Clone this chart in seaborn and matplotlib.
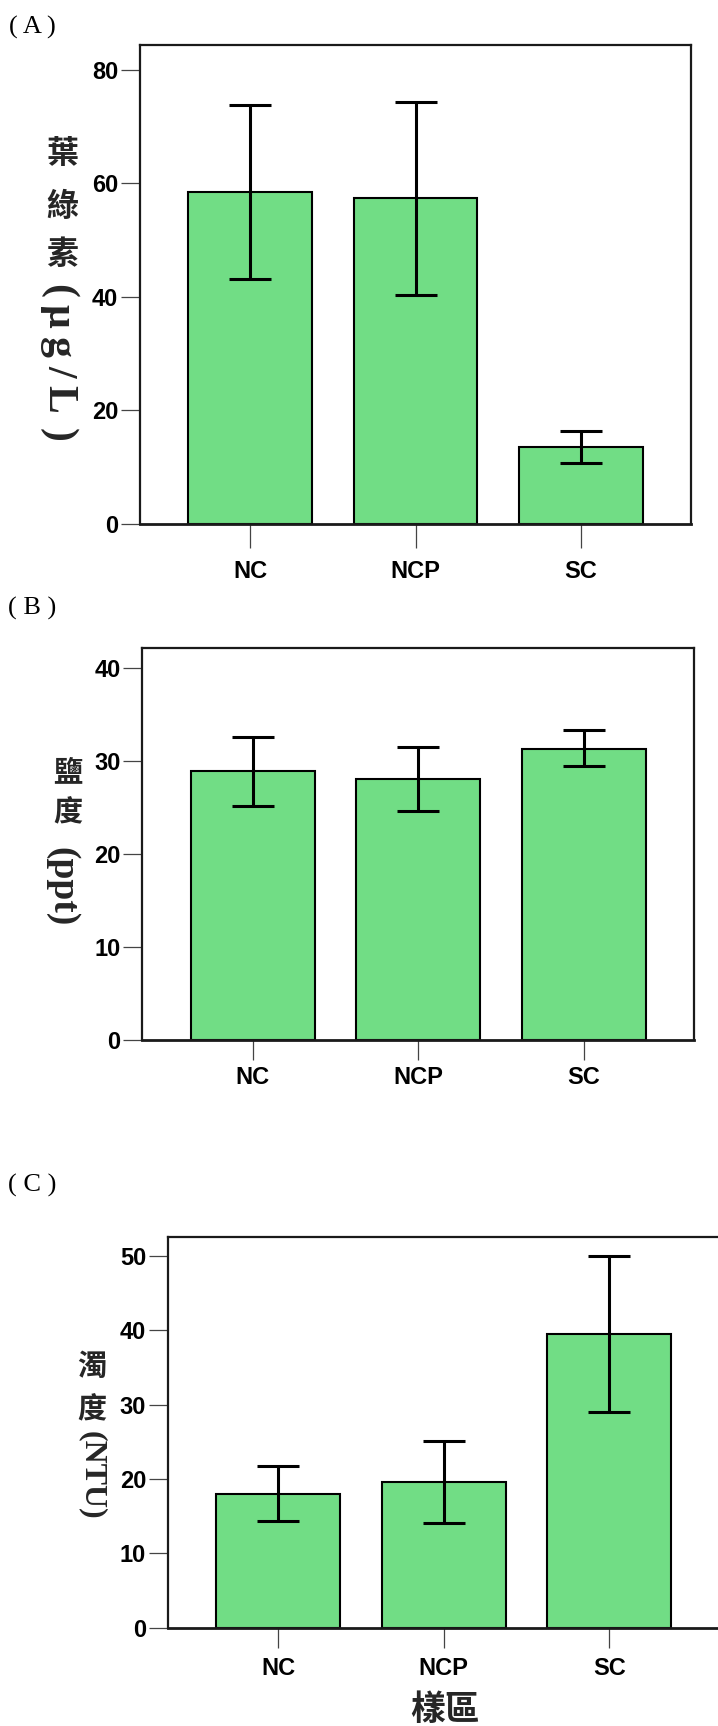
import numpy as np
import pandas as pd
import matplotlib
matplotlib.use("Agg")
import matplotlib.pyplot as plt
import seaborn as sns

# ---------------- data ----------------
sites = ["NC", "NCP", "SC"]

chl_mean = [58.5, 57.4, 13.6]
chl_high = [73.8, 74.3, 16.4]
chl_low = [43.1, 40.3, 10.8]

sal_mean = [28.9, 28.1, 31.3]
sal_high = [32.6, 31.5, 33.3]
sal_low = [25.2, 24.6, 29.4]

tur_mean = [18.0, 19.6, 39.5]
tur_high = [21.8, 25.1, 50.0]
tur_low = [14.3, 14.1, 29.0]

chl_ticks = [0, 20, 40, 60, 80]
sal_ticks = [0, 10, 20, 30, 40]
tur_ticks = [0, 10, 20, 30, 40, 50]

# ---------------- style ----------------
sns.set_style("ticks")
plt.rcParams["font.family"] = ["Liberation Sans", "Noto Sans CJK TC", "DejaVu Sans"]

W, H = 718, 1726
fig = plt.figure(figsize=(W / 100, H / 100), dpi=100)

GREEN = "#71dd85"


def px_axes(left, top, right, bottom):
    return fig.add_axes([left / W, 1 - bottom / H, (right - left) / W, (bottom - top) / H])


def panel(ax, means, highs, lows, ticks, ytop, xlen, xpad):
    df = pd.DataFrame({"site": sites, "value": means})
    sns.barplot(data=df, x="site", y="value", color=GREEN, saturation=1,
                width=0.75, edgecolor="black", linewidth=1.5, errorbar=None, ax=ax)
    m = np.array(means)
    yerr = [m - np.array(lows), np.array(highs) - m]
    ax.errorbar(np.arange(len(sites)), m, yerr=yerr, fmt="none", ecolor="black",
                elinewidth=2.2, capsize=15, capthick=2.2, zorder=5)
    ax.set_xlim(-0.667, 2.667)
    ax.set_ylim(0, ytop)
    ax.set_yticks(ticks)
    ax.set_xlabel("")
    ax.set_ylabel("")
    for s in ax.spines.values():
        s.set_visible(True)
        s.set_color("#1a1a1a")
        s.set_linewidth(1.6)
    ax.spines["bottom"].set_linewidth(2.0)
    ax.tick_params(axis="y", direction="out", length=13.8, width=0.9,
                   color="#444444", labelsize=17, pad=2, left=True)
    ax.tick_params(axis="x", direction="out", length=xlen, width=0.9,
                   color="#444444", labelsize=17, pad=xpad, bottom=True)
    for lab in ax.get_xticklabels() + ax.get_yticklabels():
        lab.set_fontweight("bold")
        lab.set_fontfamily("Liberation Sans")
        lab.set_color("black")


axA = px_axes(140, 45.5, 691, 524)
panel(axA, chl_mean, chl_high, chl_low, chl_ticks, 84.3, 17.3, 8.5)

axB = px_axes(142.4, 648.3, 694.3, 1040)
panel(axB, sal_mean, sal_high, sal_low, sal_ticks, 42.1, 14.4, 4.5)

axC = px_axes(168, 1236.7, 719.5, 1627.7)
panel(axC, tur_mean, tur_high, tur_low, tur_ticks, 52.6, 14.4, 6.5)

CJK = ["Noto Sans CJK TC", "DejaVu Sans"]
SERIF = ["Liberation Serif", "DejaVu Serif"]


def ftext(x, y, s, **kw):
    fig.text(x / W, 1 - y / H, s, ha="center", va="center", **kw)


# panel labels
for lab, y in [("( A )", 27), ("( B )", 608), ("( C )", 1185)]:
    ftext(32, y, lab, fontsize=19, family=SERIF, color="black")

# y label A: upright stacked CJK + rotated unit (vertical writing)
for ch, y in [("葉", 153.6), ("綠", 207), ("素", 255)]:
    ftext(62, y, ch, fontsize=23, family=CJK, fontweight="bold")
for ch, y in [("(", 291), ("μ", 316), ("g", 347), ("/", 371), ("L", 399), (")", 435)]:
    ftext(58, y, ch, fontsize=30, family=SERIF, fontweight="bold", rotation=-90)

# y label B
for ch, y in [("鹽", 771.7), ("度", 812)]:
    ftext(68, y, ch, fontsize=21, family=CJK, fontweight="bold")
ftext(62, 887, "(ppt)", fontsize=27, family=SERIF, fontweight="bold", rotation=-90)

# y label C
for ch, y in [("濁", 1366), ("度", 1409)]:
    ftext(92, y, ch, fontsize=21, family=CJK, fontweight="bold")
ftext(92, 1475, "(NTU)", fontsize=23, family=SERIF, fontweight="bold", rotation=-90)

# x label
ftext(445, 1709, "樣區", fontsize=25, family=CJK, fontweight="bold")

fig.savefig("out.png", dpi=100)
